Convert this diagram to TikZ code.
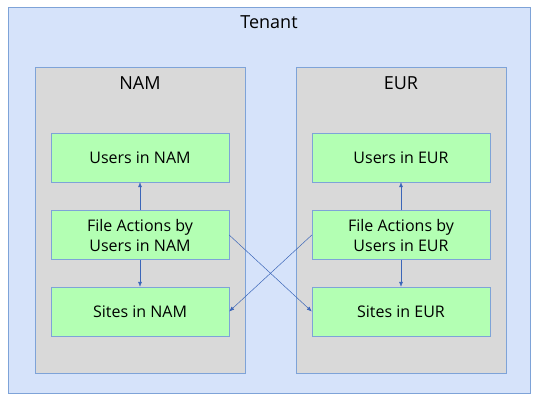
\documentclass[tikz,border=0pt]{standalone}
\usepackage{fontspec}
\setmainfont{Open Sans}
\usetikzlibrary{positioning,arrows.meta}

\definecolor{tenantfill}{HTML}{D6E3FA}
\definecolor{tenantline}{HTML}{7EA3D8}
\definecolor{regionfill}{HTML}{D9D9D9}
\definecolor{boxfill}{HTML}{B3FFB3}
\definecolor{arrowblue}{HTML}{3C66B8}

\begin{document}
\begin{tikzpicture}[x=1pt, y=-1pt,
    regionbox/.style={rectangle, draw=tenantline, fill=regionfill, minimum width=210pt, minimum height=306pt, inner sep=0pt},
    greenbox/.style={rectangle, draw=tenantline, fill=boxfill, minimum width=178pt, minimum height=49pt, inner sep=0pt, align=center, font=\fontsize{16}{20}\selectfont},
    title/.style={font=\fontsize{18}{22}\selectfont},
    link/.style={-{Latex[length=5pt,width=4pt]}, draw=arrowblue, line width=0.5pt}]
    \useasboundingbox (0,0) rectangle (538,400);
    % Containers
    \node[rectangle, draw=tenantline, fill=tenantfill, minimum width=522pt, minimum height=386pt] (tenant) at (269,200) {};
    \node[title] (tenanttitle) at (269,22) {Tenant};
    \node[regionbox] (nam) at (140,220) {};
    \node[regionbox] (eur) at (401,220) {};
    \node[title] (namtitle) at (140,83) {NAM};
    \node[title] (eurtitle) at (401,83) {EUR};

    % Boxes
    \node[greenbox] (namusers) at (140,157.5) {Users in NAM};
    \node[greenbox] (namfile) at (140,235) {File Actions by\\Users in NAM};
    \node[greenbox] (namsites) at (140,311.5) {Sites in NAM};
    \node[greenbox] (eurusers) at (401,157.5) {Users in EUR};
    \node[greenbox] (eurfile) at (401,235) {File Actions by\\Users in EUR};
    \node[greenbox] (eursites) at (401,311.5) {Sites in EUR};

    % Edges
    \draw[link] (namfile) -- (namusers);
    \draw[link] (namfile) -- (namsites);
    \draw[link] (eurfile) -- (eurusers);
    \draw[link] (eurfile) -- (eursites);
    \draw[link] (namfile.east) -- (eursites.west);
    \draw[link] (eurfile.west) -- (namsites.east);
\end{tikzpicture}
\end{document}
